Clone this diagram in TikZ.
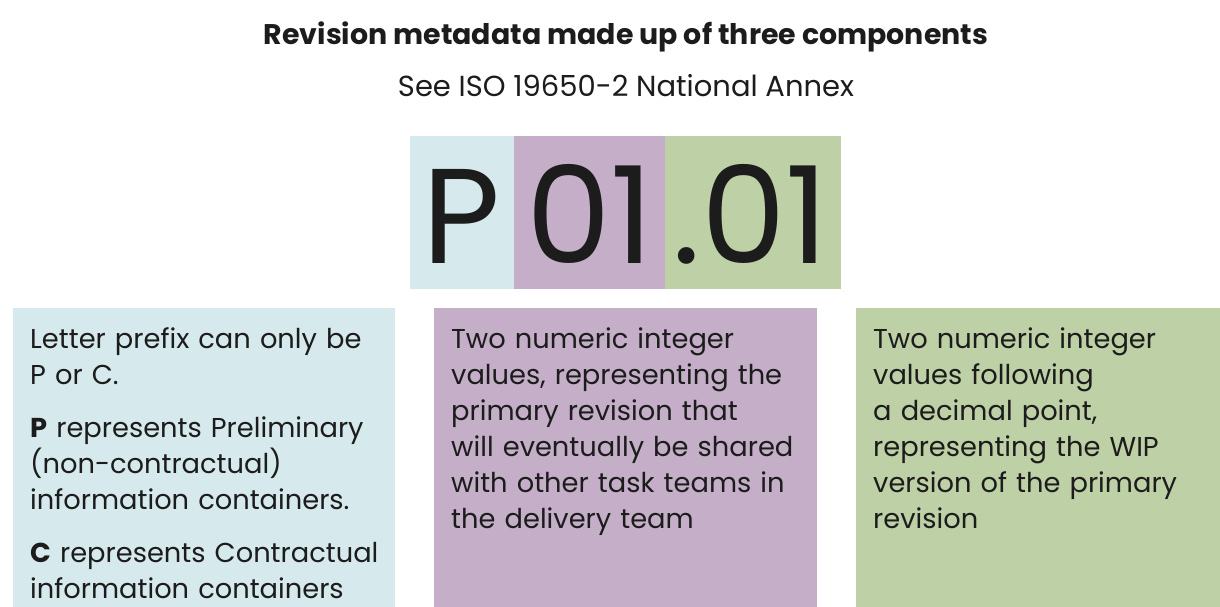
\documentclass[tikz,border=0pt]{standalone}
\usepackage{fontspec}
\setmainfont{Poppins}
\definecolor{cblue}{HTML}{D6E9EC}
\definecolor{cpurple}{HTML}{C4AEC8}
\definecolor{cgreen}{HTML}{BED0A6}
\definecolor{ink}{HTML}{1C1C1C}
\tikzset{
  panel/.style={inner sep=0pt, outer sep=0pt, anchor=north west, draw=none},
  bodytext/.style={inner sep=0pt, anchor=base west, text width=#1, align=left, text=ink,
    font=\fontsize{27.3}{36}\selectfont},
  bigtext/.style={inner sep=0pt, anchor=base, text=ink, font=\fontsize{135}{135}\selectfont},
}
\begin{document}
\begin{tikzpicture}[x=1pt,y=-1pt]
\useasboundingbox (0,0) rectangle (1220,607);
\fill[white] (0,0) rectangle (1220,607);
% title
\node[inner sep=0pt, anchor=base, text=ink, font=\fontsize{28.4}{32}\selectfont\bfseries] (title) at (626,45) {Revision metadata made up of three components};
\node[inner sep=0pt, anchor=base, text=ink, font=\fontsize{29}{32}\selectfont] (subtitle) at (626,97) {See ISO 19650-2 National Annex};
% top code boxes
\node[panel, fill=cblue, minimum width=104pt, minimum height=153pt] (tp) at (410,136) {};
\node[panel, fill=cpurple, minimum width=151pt, minimum height=153pt] (tm) at (514,136) {};
\node[panel, fill=cgreen, minimum width=176pt, minimum height=153pt] (tg) at (665,136) {};
\node[bigtext] (lp) at (462,263) {P};
\node[bigtext] (lm) at (590,263) {01};
\node[bigtext] (lg) at (751,263) {.01};
% bottom panels
\node[panel, fill=cblue, minimum width=382pt, minimum height=300pt] (b1) at (13,308) {};
\node[panel, fill=cpurple, minimum width=383pt, minimum height=300pt] (b2) at (434,308) {};
\node[panel, fill=cgreen, minimum width=364pt, minimum height=300pt] (b3) at (856,308) {};
\node[bodytext=360pt] (t1) at (30,348) {Letter prefix can only be\\P or C.\\[17pt]\textbf{P} represents Preliminary\\(non-contractual)\\information containers.\\[17pt]\textbf{C} represents Contractual\\information containers};
\node[bodytext=360pt] (t2) at (451,348) {Two numeric integer\\values, representing the\\primary revision that\\will eventually be shared\\with other task teams in\\the delivery team};
\node[bodytext=340pt] (t3) at (873,348) {Two numeric integer\\values following\\a decimal point,\\representing the WIP\\version of the primary\\revision};
\end{tikzpicture}
\end{document}
